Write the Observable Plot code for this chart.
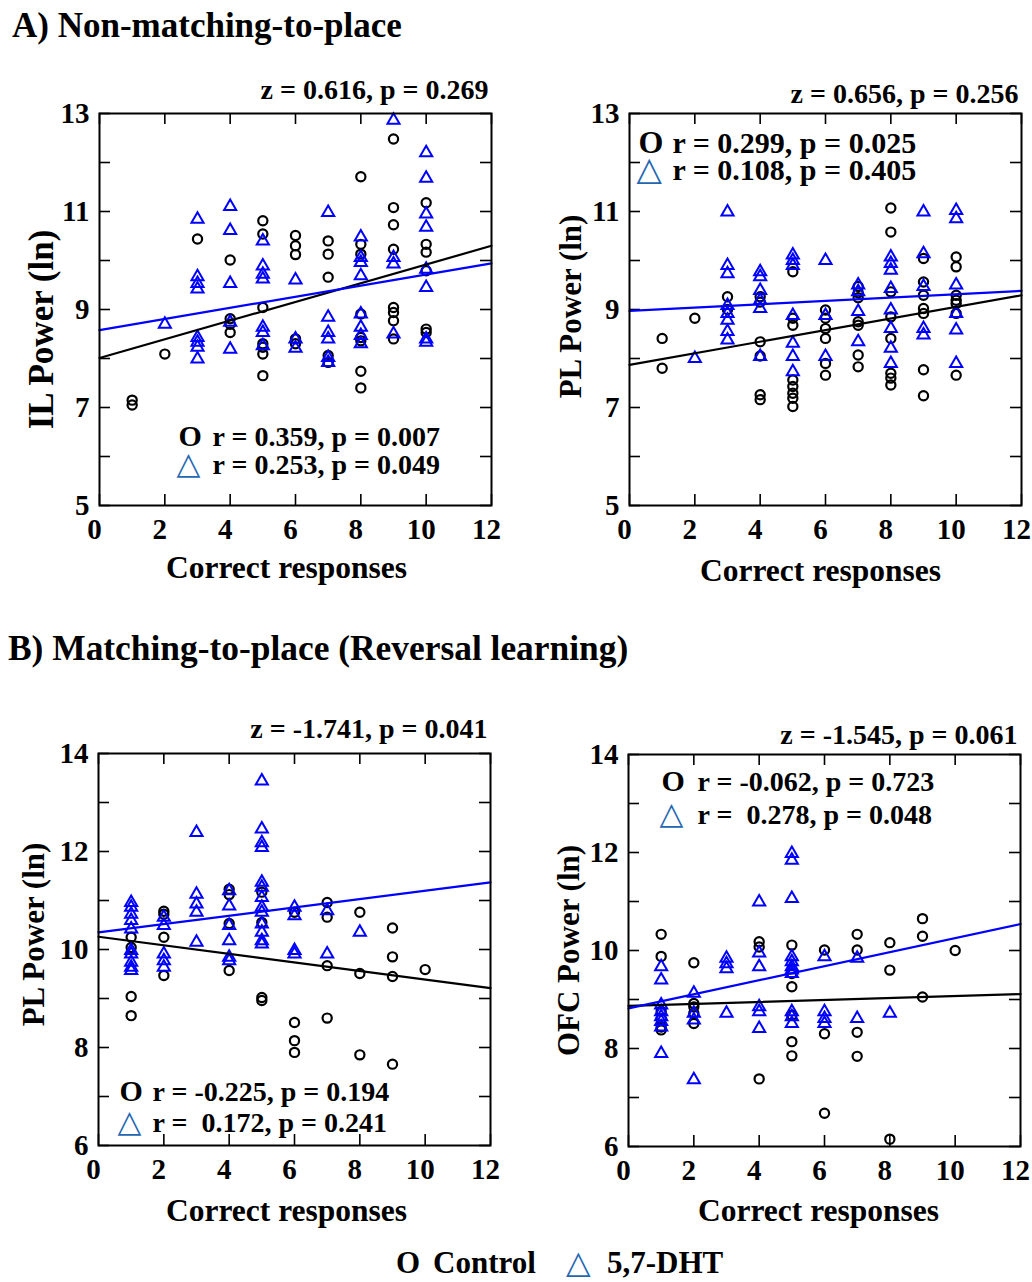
<!DOCTYPE html>
<html><head><meta charset="utf-8">
<script src="https://cdn.jsdelivr.net/npm/d3@7"></script>
<script src="https://cdn.jsdelivr.net/npm/@observablehq/plot@0.6"></script>
<style>
body{margin:0;background:#fff;}
#root{position:relative;width:1032px;height:1282px;overflow:hidden;background:#fff;font-family:"Liberation Serif","Times New Roman",serif;font-weight:bold;color:#000;}
.t{position:absolute;white-space:pre;line-height:1;}
.panel{position:absolute;}
.panel svg{overflow:visible;}
</style></head><body><div id="root"></div><script>
// ---- data ----
const correct = [1,2,3,4,5,6,7,8,9,10];
const xTicks = [0,2,4,6,8,10,12];
const fitX = [0,12];
const yTicksA = [5,6,7,8,9,10,11,12,13];
const yLabelsA = [5,7,9,11,13];
const yTicksB = [6,7,8,9,10,11,12,13,14];
const yLabelsB = [6,8,10,12,14];

// A) Non-matching-to-place, IL
const ilControl = [[7.15,7.05],[8.09],[10.44],[10.01,8.81,8.70,8.53],[10.81,10.54,9.04,8.30,8.23,8.09,7.65],[10.51,10.30,10.12,8.40,8.30],[10.40,10.13,9.66,8.06,7.92],[11.71,10.33,10.13,8.91,8.43,8.36,7.74,7.40],[12.48,11.08,10.73,10.23,9.04,8.94,8.77,8.40],[11.18,10.33,10.17,9.79,8.60,8.53]];
const ilDht = [[],[8.70],[10.84,9.67,9.53,9.42,8.43,8.33,8.23,7.99],[11.10,10.61,9.53,8.74,8.19],[10.40,9.89,9.72,9.62,8.64,8.53,8.26],[9.60,8.40,8.21],[10.98,8.84,8.53,8.40,8.02,7.92],[10.48,10.06,9.96,9.69,8.91,8.64,8.47,8.30],[12.86,10.06,9.93,8.50],[12.20,11.68,10.95,10.68,9.82,9.45,8.40,8.33]];
const ilFitControl = [8.01,10.30];
const ilFitDht = [8.58,9.94];

// A) Non-matching-to-place, PL
const plAControl = [[8.41,7.80],[8.82],[9.26,9.00],[9.26,9.15,8.34,8.05,7.26,7.16],[9.77,8.82,8.68,7.56,7.43,7.29,7.19,7.02],[8.99,8.82,8.61,8.41,7.90,7.66],[9.47,9.34,9.24,8.75,8.68,8.07,7.83],[11.07,10.58,9.36,8.85,8.41,7.70,7.60,7.46],[10.04,9.56,9.29,9.02,8.92,7.77,7.24],[10.07,9.87,9.29,9.19,9.12,8.92,7.66]];
const plADht = [[],[8.00],[10.99,9.90,9.73,9.08,8.92,8.78,8.55,8.38],[9.77,9.67,9.39,9.19,9.02,8.04],[10.11,10.00,9.90,8.88,8.31,8.04,7.73],[10.00,8.88,8.04],[9.50,9.36,8.96,8.34],[10.07,9.94,9.80,9.43,8.99,8.61,8.21,7.90],[10.99,10.14,9.47,8.61,8.48],[11.02,10.85,9.50,8.92,8.58,7.90]];
const plAFitControl = [7.87,9.29];
const plAFitDht = [8.97,9.38];

// B) Matching-to-place, PL
const plBControl = [[10.25,10.04,9.04,8.65],[10.78,10.72,10.25,9.47],[],[11.23,11.12,10.53,9.57],[11.17,10.55,9.02,8.96],[10.76,8.51,8.14,7.90],[10.96,10.66,9.67,8.60],[10.76,9.51,7.85],[10.44,9.85,9.45,7.66],[9.59]];
const plBDht = [[10.96,10.86,10.72,10.59,10.42,9.98,9.91,9.74,9.64,9.57],[10.66,10.49,9.91,9.77,9.64],[12.39,11.13,10.93,10.76,10.15],[11.20,10.89,10.49,10.18,9.84,9.77],[13.44,12.46,12.18,12.08,11.37,11.27,11.06,10.86,10.76,10.52,10.35,10.18,10.11],[10.86,10.69,9.98,9.91],[10.79,9.91],[10.35],[],[]];
const plBFitControl = [10.26,9.21];
const plBFitDht = [10.35,11.37];

// B) Matching-to-place, OFC
const ofcControl = [[10.33,9.88,8.76,8.61,8.44,8.38],[9.75,8.92,8.85,8.72,8.51],[],[10.18,10.07,7.38],[10.11,9.53,9.26,8.68,8.14,7.85],[10.01,8.30,6.68],[10.33,10.01,8.33,7.84],[10.16,9.60,6.15],[10.65,10.29,9.05],[10.00]];
const ofcDht = [[9.67,9.40,8.89,8.75,8.65,8.55,8.44,7.90],[9.13,8.72,8.58,7.36],[9.84,9.73,9.63,8.72],[10.99,9.95,9.67,8.85,8.75,8.41],[11.98,11.84,11.06,9.87,9.77,9.67,9.60,9.53,8.75,8.65,8.51],[9.87,8.75,8.61,8.51],[9.84,8.61],[8.72],[],[]];
const ofcFitControl = [8.87,9.11];
const ofcFitDht = [8.82,10.54];

// texts
const titleA = "A) Non-matching-to-place";
const titleB = "B) Matching-to-place (Reversal learning)";
const xLabel = "Correct responses";
const legendControl = "Control";
const legendDht = "5,7-DHT";
const circleSym = "O";
const triSym = "\u25B3";

// ---- drawing ----
const SERIF = "'Liberation Serif','Times New Roman',serif";
const BLUE = "#0000ff";
const TRI_COLOR = "#2467b0";
const W = 392, H = 392, ML = 99, MR = 10, MT = 80, MB = 88;
const pts = (series) => series.flatMap((ys, i) => ys.map(y => ({x: correct[i], y})));
const fit = (vals) => vals.map((y, i) => ({x: fitX[i], y}));

function panel(o) {
  const a = o.statTop ? "top-left" : "bottom-left";
  const fs = o.statSize ?? 28;
  const lh = (o.dy2 - o.dy1) / fs;
  return Plot.plot({
    width: ML + W + MR, height: MT + H + MB,
    marginLeft: ML, marginRight: MR, marginTop: MT, marginBottom: MB,
    x: {domain: [0, 12]},
    y: {domain: o.yDomain},
    style: {fontFamily: SERIF, fontWeight: "bold", fontSize: "29px", background: "transparent", color: "#000"},
    marks: [
      Plot.ruleX(xTicks, {x: d => d, insetTop: H - 11, strokeWidth: 1.6}),
      Plot.ruleX(xTicks, {x: d => d, insetBottom: H - 11, strokeWidth: 1.6}),
      Plot.ruleY(o.yTicks, {y: d => d, insetRight: W - 11, strokeWidth: 1.6}),
      Plot.ruleY(o.yTicks, {y: d => d, insetLeft: W - 11, strokeWidth: 1.6}),
      Plot.axisX({ticks: xTicks, tickSize: 0, tickPadding: 13, dx: -5, label: null, fontSize: 29}),
      Plot.axisY({ticks: o.yLabels, tickSize: 0, tickPadding: 10, label: null, fontSize: 29}),
      Plot.dot(pts(o.ctrl), {x: "x", y: "y", r: 4.6, stroke: "#000", strokeWidth: 2.2, symbol: "circle"}),
      Plot.dot(pts(o.dht), {x: "x", y: "y", r: 4.5, stroke: BLUE, strokeWidth: 2, symbol: "triangle"}),
      Plot.line(fit(o.fitCtrl), {x: "x", y: "y", stroke: "#000", strokeWidth: 2.2}),
      Plot.line(fit(o.fitDht), {x: "x", y: "y", stroke: BLUE, strokeWidth: 2.2}),
      Plot.frame({stroke: "#000", strokeWidth: 2}),
      Plot.text([o.z], {text: d => d, frameAnchor: "top-right", textAnchor: "end", lineAnchor: "bottom", dx: -3, dy: o.zDy, fontSize: 28}),
      Plot.text([circleSym], {text: d => d, frameAnchor: a, textAnchor: "start", lineAnchor: "bottom", dx: o.symDx, dy: o.dy1, fontSize: fs + 2}),
      Plot.text([triSym], {text: d => d, frameAnchor: a, textAnchor: "start", lineAnchor: "bottom", dx: o.symDx - 2, dy: o.dy2, fontSize: fs + 3, fill: TRI_COLOR, fontFamily: "'DejaVu Sans'", fontWeight: "normal"}),
      Plot.text([o.r1 + "\n" + o.r2], {text: d => d, frameAnchor: a, textAnchor: "start", lineAnchor: "bottom", lineHeight: lh, dx: o.txtDx, dy: o.dy2, fontSize: fs}),
      Plot.text([o.yLabel], {text: d => d, frameAnchor: "left", rotate: -90, textAnchor: "middle", lineAnchor: "bottom", dx: o.yLabDx, dy: o.yLabDy, fontSize: o.yLabSize ?? 31}),
      Plot.text([xLabel], {text: d => d, frameAnchor: "bottom", textAnchor: "middle", lineAnchor: "bottom", dx: o.xLabDx, dy: o.xLabDy, fontSize: 31.5})
    ]
  });
}

const root = document.getElementById("root");
function place(el, left, top) {
  const d = document.createElement("div");
  d.className = "panel";
  d.style.left = left + "px"; d.style.top = top + "px";
  d.style.width = (ML + W + MR) + "px";
  d.appendChild(el); root.appendChild(d);
}
function label(text, left, baseline, size, extra = {}) {
  const d = document.createElement("div");
  d.className = "t";
  d.textContent = text;
  const k = extra.k ?? 0.8375;
  d.style.left = left + "px";
  d.style.top = (baseline - k * size) + "px";
  d.style.fontSize = size + "px";
  if (extra.color) d.style.color = extra.color;
  if (extra.font) d.style.fontFamily = extra.font;
  if (extra.weight) d.style.fontWeight = extra.weight;
  root.appendChild(d);
}

label(titleA, 12, 37, 35);
label(titleB, 8, 661, 35.4);

place(panel({
  ctrl: ilControl, dht: ilDht, fitCtrl: ilFitControl, fitDht: ilFitDht,
  yDomain: [5, 13], yTicks: yTicksA, yLabels: yLabelsA, yLabel: "IL Power (ln)", yLabSize: 35,
  z: "z = 0.616, p = 0.269", zDy: -15,
  statTop: false, symDx: 79, txtDx: 113, dy1: -60, dy2: -32,
  r1: "r = 0.359, p = 0.007", r2: "r = 0.253, p = 0.049",
  yLabDx: -47, yLabDy: 20, xLabDx: -9, xLabDy: 72
}), 0, 113 - MT);

place(panel({
  ctrl: plAControl, dht: plADht, fitCtrl: plAFitControl, fitDht: plAFitDht,
  yDomain: [5, 13], yTicks: yTicksA, yLabels: yLabelsA, yLabel: "PL Power (ln)",
  z: "z = 0.656, p = 0.256", zDy: -11,
  statTop: true, statSize: 30, symDx: 9, txtDx: 43, dy1: 39, dy2: 66,
  r1: "r = 0.299, p = 0.025", r2: "r = 0.108, p = 0.405",
  yLabDx: -49, yLabDy: -3, xLabDx: -5, xLabDy: 75
}), 629 - ML, 113 - MT);

place(panel({
  ctrl: plBControl, dht: plBDht, fitCtrl: plBFitControl, fitDht: plBFitDht,
  yDomain: [6, 14], yTicks: yTicksB, yLabels: yLabelsB, yLabel: "PL Power (ln)",
  z: "z = -1.741, p = 0.041", zDy: -16,
  statTop: false, symDx: 21, txtDx: 54, dy1: -45, dy2: -14,
  r1: "r = -0.225, p = 0.194", r2: "r =\u00a0 0.172, p = 0.241",
  yLabDx: -55, yLabDy: -15, xLabDx: -8, xLabDy: 75
}), 98 - ML, 753 - MT);

place(panel({
  ctrl: ofcControl, dht: ofcDht, fitCtrl: ofcFitControl, fitDht: ofcFitDht,
  yDomain: [6, 14], yTicks: yTicksB, yLabels: yLabelsB, yLabel: "OFC Power (ln)",
  z: "z = -1.545, p = 0.061", zDy: -11,
  statTop: true, symDx: 33, txtDx: 69, dy1: 36, dy2: 69,
  r1: "r = -0.062, p = 0.723", r2: "r =\u00a0 0.278, p = 0.048",
  yLabDx: -50, yLabDy: 0, xLabDx: -6, xLabDy: 74
}), 628 - ML, 754 - MT);

// legend
label(circleSym, 396, 1273, 31);
label(legendControl, 433, 1273, 31);
label(triSym, 566, 1273, 32, {color: TRI_COLOR, font: "'DejaVu Sans'", weight: "normal", k: 0.846});
label(legendDht, 607, 1273, 31);
</script></body></html>
